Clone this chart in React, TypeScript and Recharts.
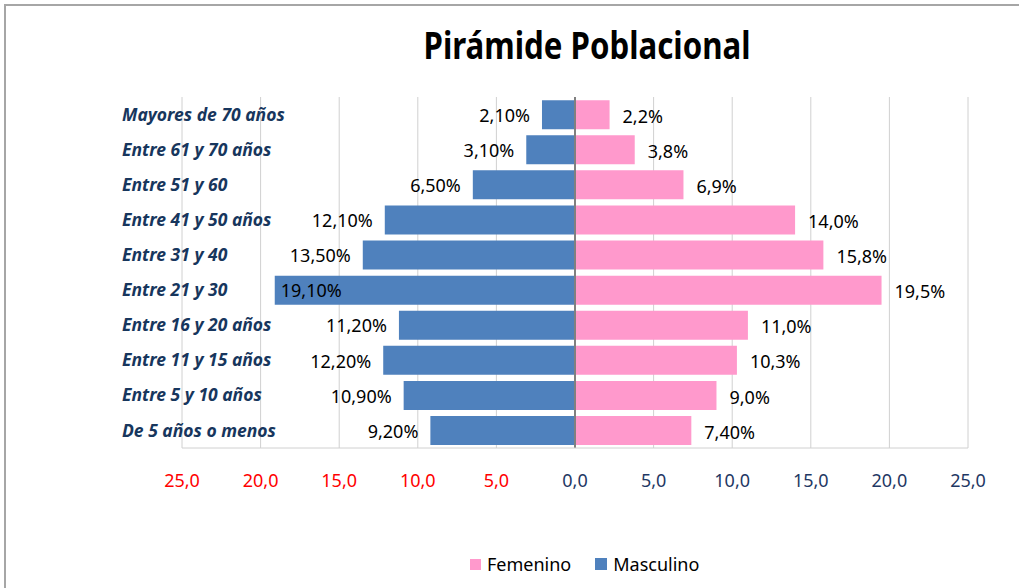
import React from 'react';
import {
  BarChart,
  Bar,
  XAxis,
  YAxis,
  CartesianGrid,
  ReferenceLine,
  LabelList,
  Legend,
} from 'recharts';

const groups = [
  'Mayores de 70 años',
  'Entre 61 y 70 años',
  'Entre 51 y 60',
  'Entre 41 y 50 años',
  'Entre 31 y 40',
  'Entre 21 y 30',
  'Entre 16 y 20 años',
  'Entre 11 y 15 años',
  'Entre 5 y 10 años',
  'De 5 años o menos',
];

const masculino = [2.1, 3.1, 6.5, 12.1, 13.5, 19.1, 11.2, 12.2, 10.9, 9.2];
const femenino = [2.2, 3.8, 6.9, 14.0, 15.8, 19.5, 11.0, 10.3, 9.0, 7.4];

const masculinoLabels = ['2,10%', '3,10%', '6,50%', '12,10%', '13,50%', '19,10%', '11,20%', '12,20%', '10,90%', '9,20%'];
const femeninoLabels = ['2,2%', '3,8%', '6,9%', '14,0%', '15,8%', '19,5%', '11,0%', '10,3%', '9,0%', '7,40%'];

const xTicks = [-25, -20, -15, -10, -5, 0, 5, 10, 15, 20, 25];

const BLUE = '#4F81BD';
const PINK = '#FF99CC';
const NAVY = '#1F3864';
const FONT = '"Noto Sans", "Open Sans", sans-serif';

// male bars go left, so store them negative
const data = groups.map((name, i) => ({
  name,
  masculino: -masculino[i],
  femenino: femenino[i],
  mLabel: masculinoLabels[i],
  fLabel: femeninoLabels[i],
}));

const CategoryTick = (props: any) => {
  const { y, payload } = props;
  return (
    <text
      x={122}
      y={y}
      dy="0.35em"
      textAnchor="start"
      fill="#17365D"
      fontFamily={FONT}
      fontSize={17.5}
      fontWeight="bold"
      fontStyle="italic"
    >
      {payload.value}
    </text>
  );
};

const ValueTick = (props: any) => {
  const { x, y, payload } = props;
  const v = payload.value as number;
  return (
    <text
      x={x}
      y={y + 31}
      textAnchor="middle"
      fill={v < 0 ? '#FF0000' : NAVY}
      fontFamily={FONT}
      fontSize={18}
    >
      {Math.abs(v).toFixed(1).replace('.', ',')}
    </text>
  );
};

const MaleLabel = (props: any) => {
  const { x, y, width, height, value } = props;
  const left = Math.min(x, x + width);
  const cy = y + height / 2;
  // no room outside the plot -> Excel puts it inside the bar
  const inside = left - 10 - 60 < 220;
  return (
    <text
      x={inside ? left + 6 : left - 12}
      y={cy}
      dy="0.4em"
      textAnchor={inside ? 'start' : 'end'}
      fill="#000"
      fontFamily={FONT}
      fontSize={18}
    >
      {value}
    </text>
  );
};

const FemaleLabel = (props: any) => {
  const { x, y, width, height, value } = props;
  const right = Math.max(x, x + width);
  return (
    <text
      x={right + 13}
      y={y + height / 2}
      dy="0.45em"
      textAnchor="start"
      fill="#000"
      fontFamily={FONT}
      fontSize={18}
    >
      {value}
    </text>
  );
};

const LegendContent = () => (
  <div style={{ display: 'flex', alignItems: 'center', fontFamily: FONT, fontSize: 18, color: '#000' }}>
    <span style={{ display: 'inline-block', width: 11, height: 11, background: PINK, marginRight: 6 }} />
    <span style={{ marginRight: 24 }}>Femenino</span>
    <span style={{ display: 'inline-block', width: 12, height: 12, background: BLUE, marginRight: 6 }} />
    <span>Masculino</span>
  </div>
);

const App: React.FC = () => {
  return (
    <div style={{ position: 'absolute', left: 0, top: 0, width: 1019, height: 588, background: '#fff' }}>
      <div
        style={{
          position: 'absolute',
          left: 4,
          top: 4,
          width: 1015,
          height: 584,
          borderTop: '2px solid #A6A6A6',
          borderLeft: '2px solid #A6A6A6',
          boxSizing: 'border-box',
        }}
      />
      <svg style={{ position: 'absolute', left: 0, top: 0 }} width={1019} height={90}>
        <text
          x={587}
          y={59}
          textAnchor="middle"
          fontFamily={FONT}
          fontSize={37}
          fontWeight="bold"
          fill="#000"
          textLength={327}
          lengthAdjust="spacingAndGlyphs"
        >
          Pirámide Poblacional
        </text>
      </svg>
      <div style={{ position: 'absolute', left: 0, top: 0 }}>
        <BarChart
          width={1019}
          height={588}
          data={data}
          layout="vertical"
          stackOffset="sign"
          barCategoryGap="9%"
          margin={{ top: 97, right: 51, bottom: 110, left: 122 }}
        >
          <CartesianGrid horizontal={false} stroke="#D0D0D0" />
          <XAxis
            type="number"
            domain={[-25, 25]}
            ticks={xTicks}
            allowDataOverflow
            height={30}
            axisLine={{ stroke: '#D0D0D0' }}
            tickLine={false}
            tick={<ValueTick />}
          />
          <YAxis
            type="category"
            dataKey="name"
            width={60}
            axisLine={false}
            tickLine={false}
            tick={<CategoryTick />}
          />
          <Bar dataKey="femenino" name="Femenino" stackId="a" fill={PINK} isAnimationActive={false}>
            <LabelList dataKey="fLabel" content={<FemaleLabel />} />
          </Bar>
          <Bar dataKey="masculino" name="Masculino" stackId="a" fill={BLUE} isAnimationActive={false}>
            <LabelList dataKey="mLabel" content={<MaleLabel />} />
          </Bar>
          <ReferenceLine x={0} stroke="#808080" strokeWidth={2} />
          <Legend
            layout="horizontal"
            verticalAlign="middle"
            align="center"
            content={<LegendContent />}
            wrapperStyle={{ top: 552, left: 470, width: 'auto' }}
          />
        </BarChart>
      </div>
    </div>
  );
};

export default App;
